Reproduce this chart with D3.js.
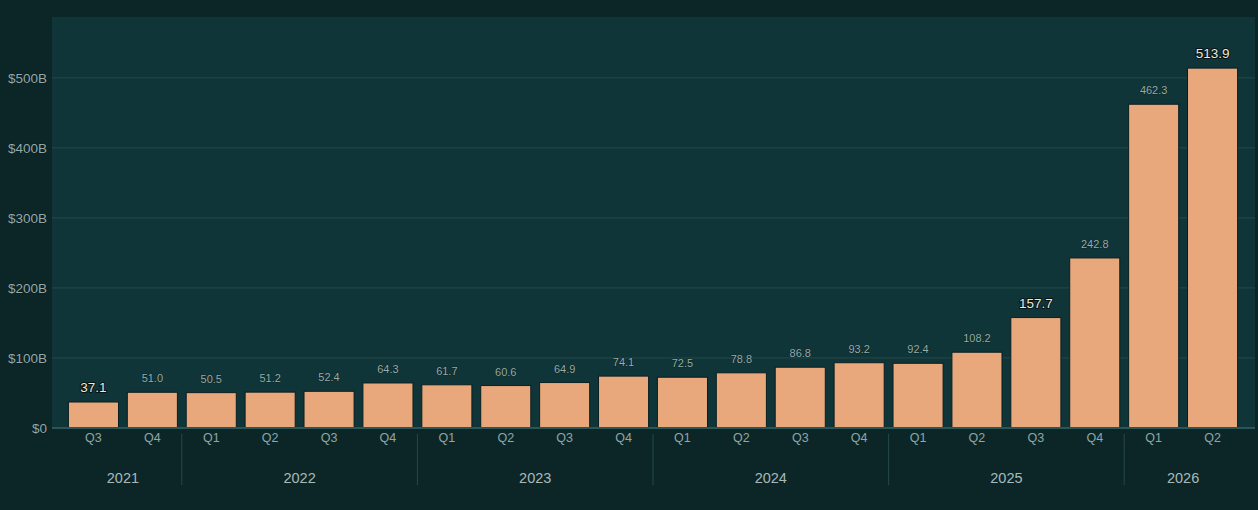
<!DOCTYPE html>
<html>
<head>
<meta charset="utf-8">
<script src="https://cdn.jsdelivr.net/npm/d3@7"></script>
<style>
  html, body { margin: 0; padding: 0; background: #0c2628; }
  svg { display: block; font-family: "Liberation Sans", Arial, sans-serif; }
</style>
</head>
<body>
<div id="chart"></div>
<script>
const years = ["2021", "2021", "2022", "2022", "2022", "2022", "2023", "2023", "2023", "2023",
               "2024", "2024", "2024", "2024", "2025", "2025", "2025", "2025", "2026", "2026"];
const quarters = ["Q3", "Q4", "Q1", "Q2", "Q3", "Q4", "Q1", "Q2", "Q3", "Q4",
                  "Q1", "Q2", "Q3", "Q4", "Q1", "Q2", "Q3", "Q4", "Q1", "Q2"];
const values = [37.1, 51.0, 50.5, 51.2, 52.4, 64.3, 61.7, 60.6, 64.9, 74.1,
                72.5, 78.8, 86.8, 93.2, 92.4, 108.2, 157.7, 242.8, 462.3, 513.9];
const highlighted = ["2021 Q3", "2025 Q3", "2026 Q2"];
const yTicks = [0, 100, 200, 300, 400, 500];

const width = 1258;
const height = 510;
const plot = { left: 52, right: 1255, top: 17, bottom: 428 };

const rows = values.map((v, i) => ({ key: `${years[i]} ${quarters[i]}`, year: years[i], q: quarters[i], value: v }));
const isHi = d => highlighted.includes(d.key);

const svg = d3.select("#chart")
    .append("svg")
    .attr("width", width)
    .attr("height", height);

svg.append("rect")
    .attr("width", width)
    .attr("height", height)
    .attr("fill", "#0c2628");

svg.append("rect")
    .attr("x", plot.left)
    .attr("y", plot.top)
    .attr("width", plot.right - plot.left)
    .attr("height", plot.bottom - plot.top)
    .attr("fill", "#0f3538");

const x = d3.scaleBand()
    .domain(rows.map(d => d.key))
    .range([64, 1242])
    .paddingInner(0.15)
    .paddingOuter(0.075);

const y = d3.scaleLinear()
    .domain([0, d3.max(values) * 1.142])
    .range([plot.bottom, plot.top]);

// gridlines
svg.append("g")
    .selectAll("line")
    .data(yTicks.filter(t => t > 0))
    .join("line")
        .attr("x1", plot.left)
        .attr("x2", plot.right)
        .attr("y1", d => y(d))
        .attr("y2", d => y(d))
        .attr("stroke", "#274a4a")
        .attr("stroke-width", 1);

// y axis labels
const yAxis = svg.append("g")
    .attr("transform", `translate(${plot.left},0)`)
    .call(d3.axisLeft(y).tickValues(yTicks).tickSize(0).tickPadding(5)
        .tickFormat(d => d === 0 ? "$0" : `$${d}B`));
yAxis.select(".domain").remove();
yAxis.selectAll("text")
    .attr("fill", "#93aaaa")
    .attr("font-size", 13.5)
    .attr("font-family", "Liberation Sans, Arial, sans-serif")
    .attr("paint-order", "stroke")
    .attr("stroke", "#08191b")
    .attr("stroke-width", 1);

// bars
svg.append("g")
    .selectAll("rect")
    .data(rows)
    .join("rect")
        .attr("x", d => x(d.key))
        .attr("y", d => y(d.value))
        .attr("width", x.bandwidth())
        .attr("height", d => y(0) - y(d.value))
        .attr("fill", "#e8a87c")
        .attr("stroke", "#0a1f21")
        .attr("stroke-width", 1);

// value labels
svg.append("g")
    .selectAll("text")
    .data(rows)
    .join("text")
        .attr("x", d => x(d.key) + x.bandwidth() / 2)
        .attr("y", d => y(d.value) - 10)
        .attr("text-anchor", "middle")
        .attr("fill", d => isHi(d) ? "#ece8dc" : "#97aeac")
        .attr("font-size", d => isHi(d) ? 13.5 : 11)
        .attr("paint-order", "stroke")
        .attr("stroke", "#061416")
        .attr("stroke-width", d => isHi(d) ? 2 : 0.6)
        .text(d => d.value.toFixed(1));

// bottom axis line
svg.append("line")
    .attr("x1", plot.left)
    .attr("x2", plot.right)
    .attr("y1", plot.bottom)
    .attr("y2", plot.bottom)
    .attr("stroke", "#2c5557")
    .attr("stroke-width", 2);

// quarter labels
const xAxis = svg.append("g")
    .attr("transform", `translate(0,${plot.bottom})`)
    .call(d3.axisBottom(x).tickSize(0).tickPadding(5).tickFormat(k => k.split(" ")[1]));
xAxis.select(".domain").remove();
xAxis.selectAll("text")
    .attr("fill", "#8ea6a6")
    .attr("font-size", 12.5)
    .attr("font-family", "Liberation Sans, Arial, sans-serif");

// year groups
const groups = d3.groups(rows, d => d.year).map(([year, list]) => ({
    year,
    x0: x(list[0].key) - x.step() * x.paddingInner() / 2,
    x1: x(list[list.length - 1].key) + x.bandwidth() + x.step() * x.paddingInner() / 2
}));

svg.append("g")
    .selectAll("line")
    .data(groups.slice(1))
    .join("line")
        .attr("x1", d => d.x0)
        .attr("x2", d => d.x0)
        .attr("y1", 434)
        .attr("y2", 485)
        .attr("stroke", "#24494b")
        .attr("stroke-width", 1);

svg.append("g")
    .selectAll("text")
    .data(groups)
    .join("text")
        .attr("x", d => (d.x0 + d.x1) / 2)
        .attr("y", 483)
        .attr("text-anchor", "middle")
        .attr("fill", "#a7baba")
        .attr("font-size", 14.5)
        .text(d => d.year);
</script>
</body>
</html>
